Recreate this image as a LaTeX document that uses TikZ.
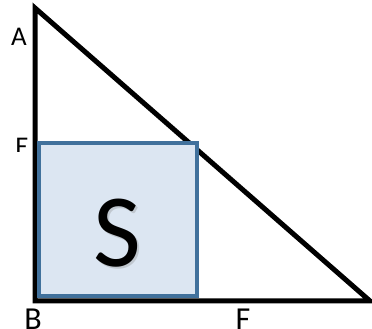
\documentclass[tikz,border=0pt]{standalone}
\usepackage{fontspec}
\setmainfont{Carlito}
\begin{document}
\begin{tikzpicture}[x=1pt,y=1pt,
  tri/.style={line width=5pt, line join=miter, draw=black},
  sq/.style={draw=sqblue, fill=sqfill, line width=3.5pt},
  lbl/.style={font=\fontsize{27}{27}\selectfont, inner sep=0pt},
  lblb/.style={font=\fontsize{32}{32}\selectfont, inner sep=0pt}]
\definecolor{sqblue}{HTML}{41719C}
\definecolor{sqfill}{HTML}{DCE6F2}
\useasboundingbox (0,0) rectangle (372,329);
\coordinate (A) at (35,321);
\coordinate (B) at (35,28);
\coordinate (C) at (370,28);
\draw[tri] (A) -- (B) -- (C) -- cycle;
\node[sq, minimum width=158pt, minimum height=153pt, anchor=south west, inner sep=0pt] (S) at (37,31) {};
\node[font=\fontsize{104}{104}\selectfont, text=black!50, opacity=0.3, inner sep=0pt] at (119,94) {S};
\node[font=\fontsize{104}{104}\selectfont, inner sep=0pt] (St) at (117,96) {S};
\node[lbl, anchor=base] (la) at (19,283) {A};
\begin{scope}
\clip (0,177) rectangle (34,200);
\node[lbl, anchor=base] (le) at (22,173) {E};
\end{scope}
\node[lblb, anchor=base] (lb) at (33,-1) {B};
\node[lblb, anchor=base] (lf) at (243,-1) {F};
\end{tikzpicture}
\end{document}
